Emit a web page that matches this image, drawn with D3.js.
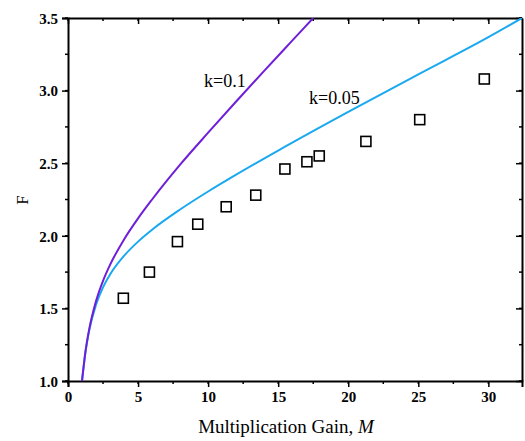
<!DOCTYPE html>
<html>
<head>
<meta charset="utf-8">
<script src="https://cdn.jsdelivr.net/npm/d3@7"></script>
<style>
  body { margin: 0; background: #fff; }
  svg text { font-family: "Liberation Serif", "Times New Roman", serif; }
</style>
</head>
<body>
<div id="chart"></div>
<script>
// curve values (M, F)
var gainK01 = [1, 1.25, 1.5, 2, 2.5, 3, 4, 5, 6, 8, 10, 12, 14, 16, 17.5];
var noiseK01 = [1.0, 1.205, 1.35, 1.55, 1.69, 1.8, 1.975, 2.12, 2.25, 2.49, 2.71, 2.925, 3.136, 3.344, 3.5];

var gainK005 = [1, 1.25, 1.5, 2, 2.5, 3, 4, 5, 6, 8, 10, 12, 15, 20, 25, 30, 32.4];
var noiseK005 = [1.0, 1.2, 1.342, 1.525, 1.645, 1.733, 1.862, 1.96, 2.042, 2.181, 2.305, 2.421, 2.587, 2.853, 3.112, 3.368, 3.5];

// measured points
var measGain = [3.95, 5.81, 7.81, 9.26, 11.29, 13.4, 15.48, 17.05, 17.93, 21.26, 25.1, 29.71];
var measF = [1.57, 1.75, 1.96, 2.08, 2.20, 2.28, 2.46, 2.51, 2.55, 2.65, 2.80, 3.08];

var xTicks = [0, 5, 10, 15, 20, 25, 30];
var yTicks = [1.0, 1.5, 2.0, 2.5, 3.0, 3.5];

var width = 525,
    height = 441,
    margin = {left: 68, top: 18, right: 3, bottom: 60};

var x = d3.scaleLinear().domain([0, 32.4]).range([margin.left, width - margin.right]);
var y = d3.scaleLinear().domain([1, 3.5]).range([height - margin.bottom, margin.top]);

var svg = d3.select("#chart").append("svg")
    .attr("width", width)
    .attr("height", height);

var xMinor = d3.range(0, 32.5, 2.5);
var yMinor = d3.range(1, 3.51, 0.25);

// minor ticks
var g = svg.append("g");
g.selectAll(".xm").data(xMinor).enter().append("line")
    .attr("x1", function (d) { return x(d); }).attr("x2", function (d) { return x(d); })
    .attr("y1", y(1)).attr("y2", y(1) + 3)
    .attr("stroke", "#000").attr("stroke-width", 1.5);
g.selectAll(".xmt").data(xMinor).enter().append("line")
    .attr("x1", function (d) { return x(d); }).attr("x2", function (d) { return x(d); })
    .attr("y1", y(3.5)).attr("y2", y(3.5) + 3)
    .attr("stroke", "#000").attr("stroke-width", 1.5);
g.selectAll(".ym").data(yMinor).enter().append("line")
    .attr("y1", function (d) { return y(d); }).attr("y2", function (d) { return y(d); })
    .attr("x1", x(0)).attr("x2", x(0) - 3)
    .attr("stroke", "#000").attr("stroke-width", 1.5);
g.selectAll(".ymr").data(yMinor).enter().append("line")
    .attr("y1", function (d) { return y(d); }).attr("y2", function (d) { return y(d); })
    .attr("x1", x(32.4)).attr("x2", x(32.4) - 3)
    .attr("stroke", "#000").attr("stroke-width", 1.5);

// axes
var xAxis = svg.append("g")
    .attr("transform", "translate(0," + y(1) + ")")
    .call(d3.axisBottom(x).tickValues(xTicks).tickFormat(d3.format("d")).tickSize(6).tickPadding(4));
var xTop = svg.append("g")
    .attr("transform", "translate(0," + y(3.5) + ")")
    .call(d3.axisBottom(x).tickValues(xTicks).tickFormat("").tickSize(6).tickSizeOuter(0));
var yAxis = svg.append("g")
    .attr("transform", "translate(" + x(0) + ",0)")
    .call(d3.axisLeft(y).tickValues(yTicks).tickFormat(d3.format(".1f")).tickSize(6).tickPadding(4));
var yRight = svg.append("g")
    .attr("transform", "translate(" + x(32.4) + ",0)")
    .call(d3.axisLeft(y).tickValues(yTicks).tickFormat("").tickSize(6).tickSizeOuter(0));

[xAxis, xTop, yAxis, yRight].forEach(function (a) {
    a.selectAll("path").attr("stroke", "#000").attr("stroke-width", 2);
    a.selectAll("line").attr("stroke", "#000").attr("stroke-width", 1.5);
    a.selectAll("text")
        .attr("fill", "#000")
        .style("font-family", "'Liberation Serif', serif")
        .style("font-size", "15px")
        .style("font-weight", "bold");
});
yAxis.selectAll("text").attr("dy", "0.35em");

// curves
var line = d3.line()
    .x(function (d) { return x(d[0]); })
    .y(function (d) { return y(d[1]); })
    .curve(d3.curveMonotoneX);

svg.append("clipPath").attr("id", "clip")
    .append("rect")
    .attr("x", x(0)).attr("y", y(3.5))
    .attr("width", x(32.4) - x(0)).attr("height", y(1) - y(3.5));

svg.append("path")
    .datum(d3.zip(gainK005, noiseK005))
    .attr("clip-path", "url(#clip)")
    .attr("fill", "none")
    .attr("stroke", "#1aa9f0")
    .attr("stroke-width", 2)
    .attr("d", line);

svg.append("path")
    .datum(d3.zip(gainK01, noiseK01))
    .attr("clip-path", "url(#clip)")
    .attr("fill", "none")
    .attr("stroke", "#6f1fd9")
    .attr("stroke-width", 2)
    .attr("d", line);

// measured squares
svg.selectAll(".pt")
    .data(d3.zip(measGain, measF))
    .enter().append("rect")
    .attr("x", function (d) { return x(d[0]) - 5; })
    .attr("y", function (d) { return y(d[1]) - 5; })
    .attr("width", 10)
    .attr("height", 10)
    .attr("fill", "none")
    .attr("stroke", "#000")
    .attr("stroke-width", 1.6);

// curve labels
svg.append("text")
    .attr("x", 204).attr("y", 87)
    .style("font-size", "18px")
    .text("k=0.1");
svg.append("text")
    .attr("x", 309).attr("y", 104)
    .style("font-size", "18px")
    .text("k=0.05");

// axis titles
var xt = svg.append("text")
    .attr("x", 286).attr("y", 433)
    .attr("text-anchor", "middle")
    .style("font-size", "19px");
xt.append("tspan").text("Multiplication Gain, ");
xt.append("tspan").style("font-style", "italic").text("M");

svg.append("text")
    .attr("transform", "translate(28,200) rotate(-90)")
    .attr("text-anchor", "middle")
    .style("font-size", "17px")
    .text("F");
</script>
</body>
</html>
